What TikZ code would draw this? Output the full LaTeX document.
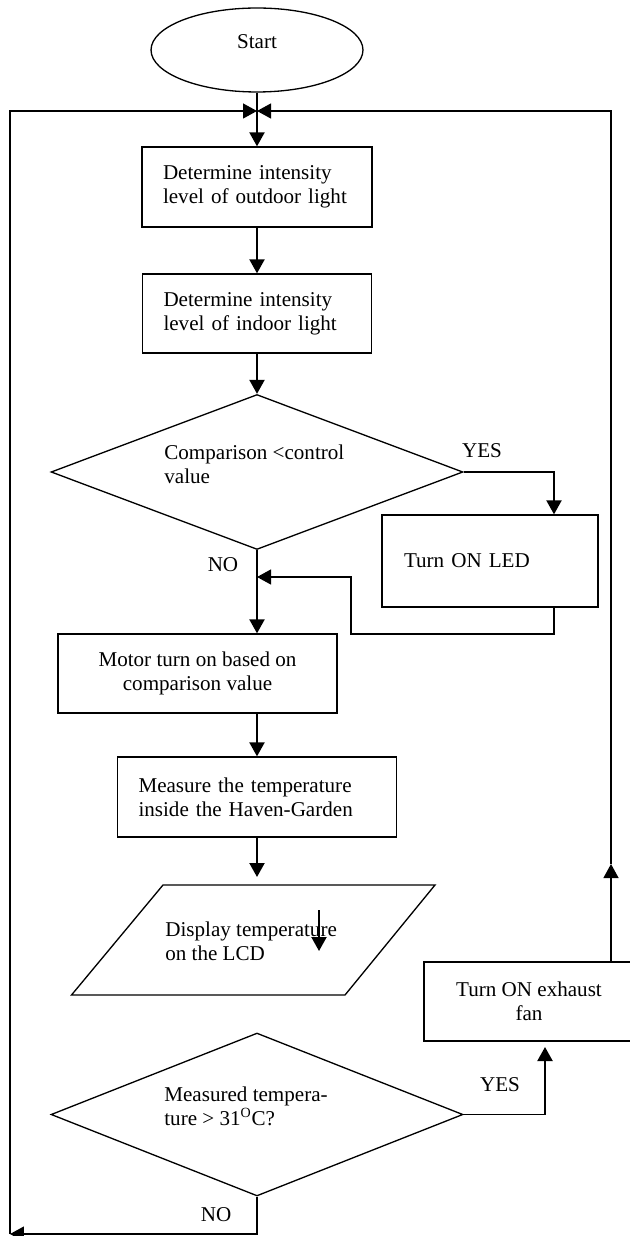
\documentclass[tikz,border=0pt]{standalone}
\usepackage{fontspec}
\setmainfont{Liberation Serif}
\usetikzlibrary{arrows.meta}
\usetikzlibrary{shapes.geometric}

\begin{document}
\begin{tikzpicture}[x=0.02cm, y=-0.02cm,
  font=\fontsize{12}{13.5}\selectfont,
  procbox/.style={draw, line width=0.75pt, align=left, inner xsep=0.42cm, inner ysep=0pt},
  decision/.style={draw, diamond, line width=0.75pt, inner sep=0pt, minimum width=8.24cm},
  tip/.style={-{Triangle[length=2.8mm,width=3mm]}},
  flow/.style={tip, line width=1.2pt},
  link/.style={line width=0.7pt}]
\useasboundingbox (0,0) rectangle (629,1236);
% terminal
\node[draw, ellipse, line width=0.75pt, minimum width=4.24cm, minimum height=1.68cm] (start) at (257,50) {};
\node (startlbl) at (257,42) {Start};
% light
\node[procbox, text width=3.76cm, minimum height=1.6cm] (outdoor) at (257,187) {Determine intensity\\level of outdoor light};
\node[procbox, text width=3.74cm, minimum height=1.58cm] (indoor) at (257,313.5) {Determine intensity\\level of indoor light};
\node[decision, minimum height=3.1cm] (cmp) at (257,472) {};
\node[anchor=west, align=left, inner sep=0pt] (cmptxt) at (164,464) {Comparison <control\\value};
\node[procbox, text width=3.44cm, inner xsep=0.44cm, minimum height=1.84cm] (led) at (490,561) {Turn ON LED};
\node[draw, line width=0.75pt, align=center, minimum width=5.58cm, minimum height=1.58cm] (motor) at (197.5,673.5) {Motor turn on based on\\comparison value};
% temperature
\node[procbox, text width=4.74cm, minimum height=1.6cm] (meas) at (257,797) {Measure the temperature\\inside the Haven-Garden};
\draw[line width=0.75pt] (163,885) -- (435,885) -- (345,995) -- (71.5,995) -- cycle;
\node[anchor=west, align=left, inner sep=0pt] (disp) at (165,941.5) {Display temperature\\on the LCD};
\node[draw, line width=0.75pt, align=center, minimum width=4.2cm, minimum height=1.58cm] (fan) at (529,1001.5) {Turn ON exhaust\\fan};
\node[decision, minimum height=3.26cm] (tmp) at (257,1114.5) {};
\node[anchor=west, align=left, inner sep=0pt] (tmptxt) at (164,1106.5) {Measured tempera-\\ture > 31\textsuperscript{O}C?};
% labels
\node (yesA) at (482,451) {YES};
\node (noA) at (223,565) {NO};
\node (yesB) at (500,1085) {YES};
\node (noB) at (216,1215) {NO};
% coordinates
\coordinate (join) at (257,111);
\coordinate (cornerBL) at (10,1234);
\coordinate (cornerTR) at (611,111);
\coordinate (midR) at (611,864);
\coordinate (yes1) at (554,472);
\coordinate (fbA) at (351,634);
\coordinate (fbB) at (257,577);
\coordinate (dtop) at (257,877);
\coordinate (s1) at (319,910);
\coordinate (s2) at (319,951);
\coordinate (yes2) at (545,1114.5);
\coordinate (yes2top) at (545,1047);
% main flow
\draw[flow] (start) -- (outdoor);
\draw[flow] (outdoor) -- (indoor);
\draw[flow] (indoor) -- (cmp);
\draw[flow] (cmp.east) -- (yes1) -- (yes1 |- led.north);
\draw[link, tip] (yes1 |- led.south) |- (fbA) |- (fbB);
\draw[flow] (cmp.south) -- (cmp.south |- motor.north);
\draw[flow] (meas.north |- motor.south) -- (meas.north);
\draw[flow] (meas) -- (dtop);
\draw[flow] (s1) -- (s2);
\draw[link] (tmp.east) -- (yes2);
\draw[flow] (yes2) -- (yes2top);
% loop back
\draw[link, tip] (tmp.south) |- (cornerBL);
\draw[link, tip] (cornerBL) |- (join);
\draw[link, tip] (fan.north -| cornerTR) -- (midR);
\draw[link, tip] (midR) |- (join);
\end{tikzpicture}
\end{document}
